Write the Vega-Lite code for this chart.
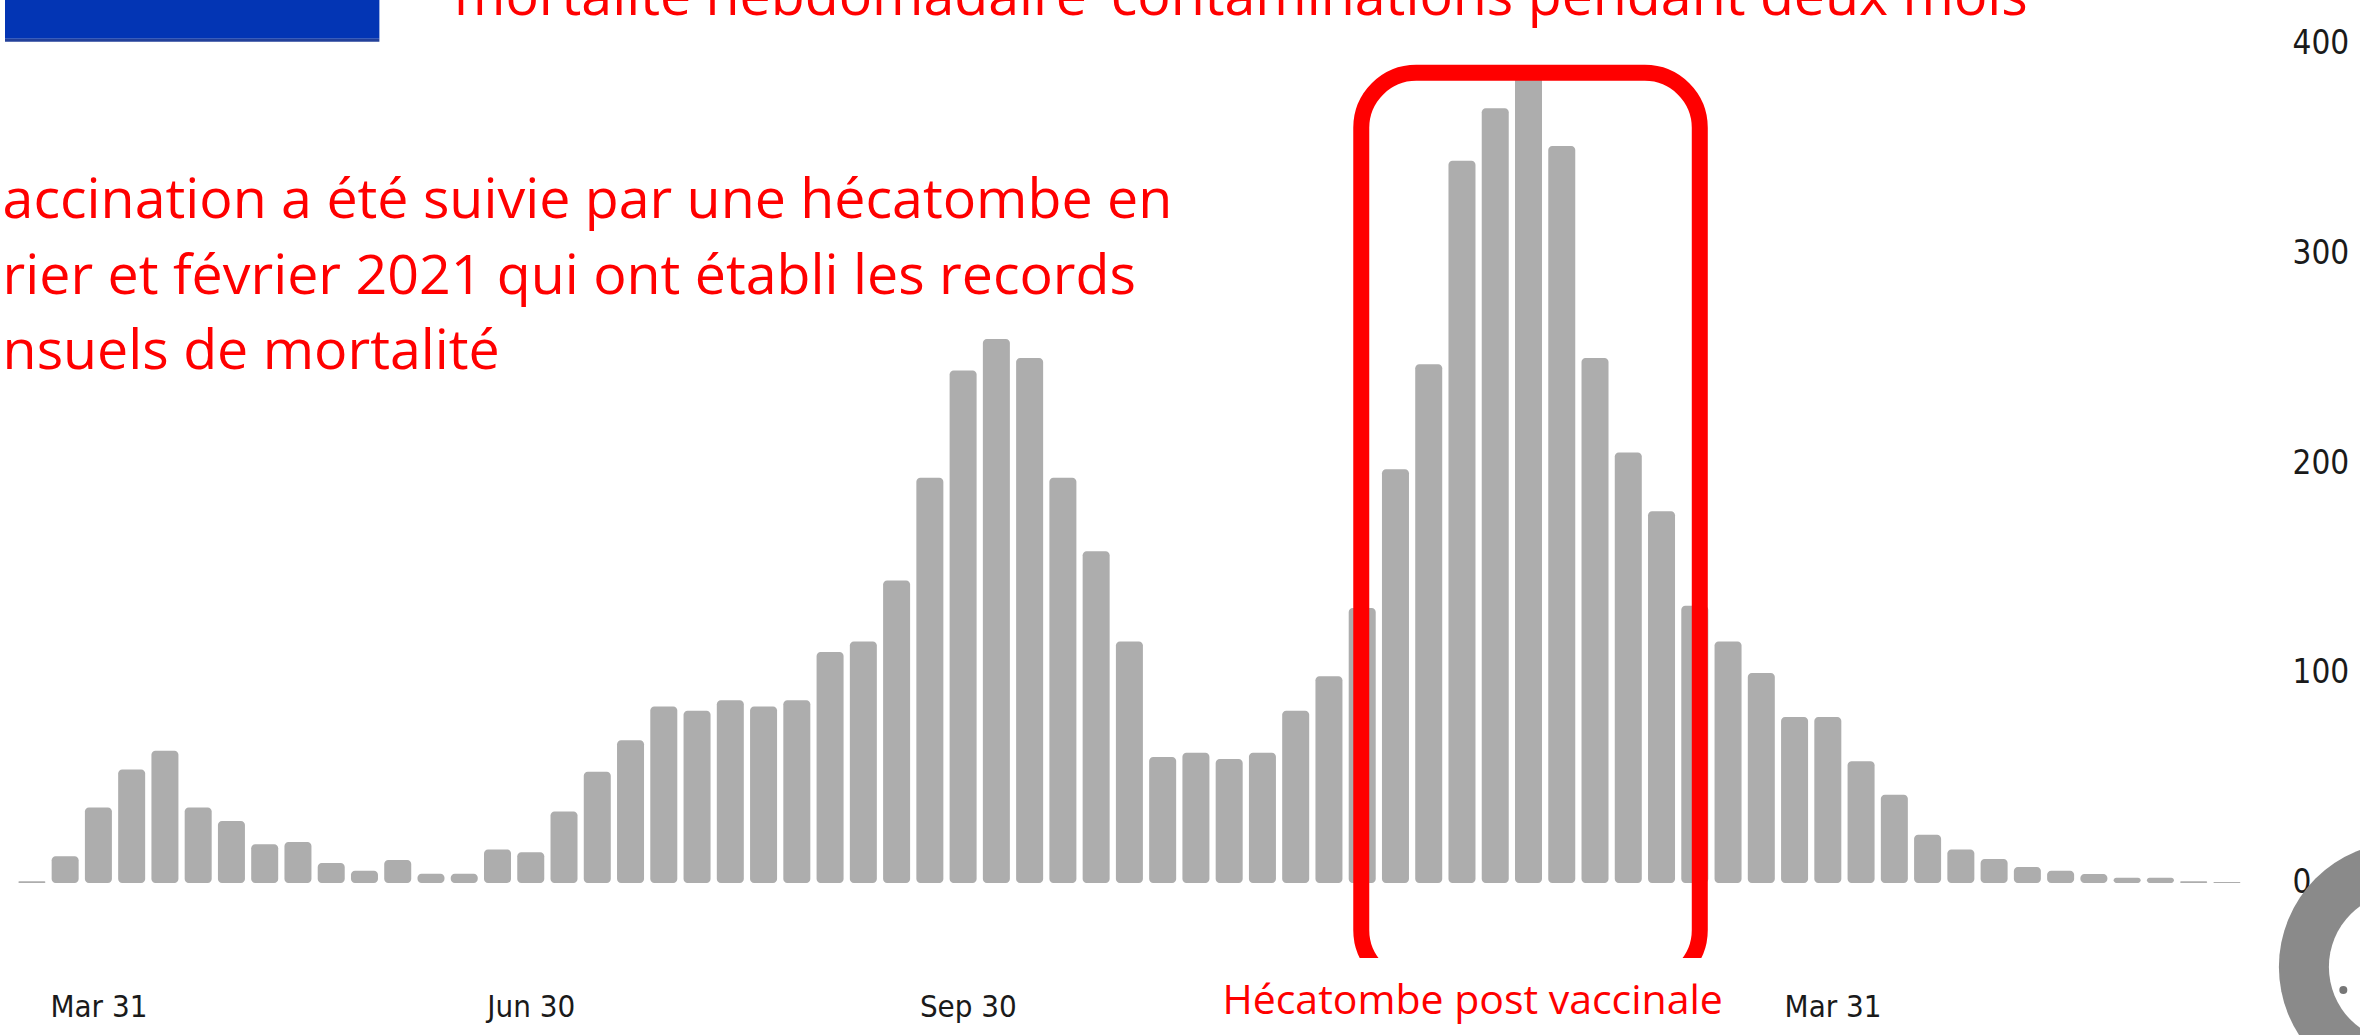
{
  "$schema": "https://vega.github.io/schema/vega-lite/v6.json",
  "width": 2360,
  "height": 1035,
  "autosize": {"type": "none"},
  "padding": 0,
  "background": "white",
  "config": {"view": {"stroke": null}},
  "resolve": {"axis": {"x": "independent", "y": "independent"}},
  "layer": [
    {
      "data": {"values": [{}]},
      "mark": {"type": "rect", "color": "#0335b4"},
      "encoding": {
        "x": {"datum": {"year": 2020, "month": 3, "date": 11, "hours": 8, "minutes": 10, "utc": true}, "type": "temporal", "axis": null,
              "scale": {"type": "utc", "domain": [{"year": 2020, "month": 3, "date": 11, "hours": 8, "minutes": 10, "utc": true}, {"year": 2021, "month": 7, "date": 18, "hours": 23, "utc": true}]}},
        "x2": {"datum": {"year": 2020, "month": 5, "date": 29, "hours": 3, "minutes": 20, "utc": true}},
        "y": {"datum": 430, "type": "quantitative", "axis": null, "scale": {"domain": [-72.4, 420.5], "nice": false, "zero": false}},
        "y2": {"datum": 402.0}
      }
    },
    {
      "data": {"values": [{}]},
      "mark": {"type": "rect", "color": "#23409a"},
      "encoding": {
        "x": {"datum": {"year": 2020, "month": 3, "date": 11, "hours": 8, "minutes": 10, "utc": true}, "type": "temporal", "axis": null,
              "scale": {"type": "utc", "domain": [{"year": 2020, "month": 3, "date": 11, "hours": 8, "minutes": 10, "utc": true}, {"year": 2021, "month": 7, "date": 18, "hours": 23, "utc": true}]}},
        "x2": {"datum": {"year": 2020, "month": 5, "date": 29, "hours": 3, "minutes": 20, "utc": true}},
        "y": {"datum": 402.0, "type": "quantitative", "axis": null, "scale": {"domain": [-72.4, 420.5], "nice": false, "zero": false}},
        "y2": {"datum": 400.6}
      }
    },
    {
      "data": {"values": [
        {"date": "2020-03-17", "deaths": 0.8},
        {"date": "2020-03-24", "deaths": 12.7},
        {"date": "2020-03-31", "deaths": 36},
        {"date": "2020-04-07", "deaths": 54},
        {"date": "2020-04-14", "deaths": 63},
        {"date": "2020-04-21", "deaths": 36},
        {"date": "2020-04-28", "deaths": 29.5},
        {"date": "2020-05-05", "deaths": 18.5},
        {"date": "2020-05-12", "deaths": 19.5},
        {"date": "2020-05-19", "deaths": 9.5},
        {"date": "2020-05-26", "deaths": 5.8},
        {"date": "2020-06-02", "deaths": 11},
        {"date": "2020-06-09", "deaths": 4.4},
        {"date": "2020-06-16", "deaths": 4.4},
        {"date": "2020-06-23", "deaths": 16},
        {"date": "2020-06-30", "deaths": 14.6},
        {"date": "2020-07-07", "deaths": 34},
        {"date": "2020-07-14", "deaths": 53},
        {"date": "2020-07-21", "deaths": 68},
        {"date": "2020-07-28", "deaths": 84},
        {"date": "2020-08-04", "deaths": 82},
        {"date": "2020-08-11", "deaths": 87},
        {"date": "2020-08-18", "deaths": 84},
        {"date": "2020-08-25", "deaths": 87},
        {"date": "2020-09-01", "deaths": 110},
        {"date": "2020-09-08", "deaths": 115},
        {"date": "2020-09-15", "deaths": 144},
        {"date": "2020-09-22", "deaths": 193},
        {"date": "2020-09-29", "deaths": 244},
        {"date": "2020-10-06", "deaths": 259},
        {"date": "2020-10-13", "deaths": 250},
        {"date": "2020-10-20", "deaths": 193},
        {"date": "2020-10-27", "deaths": 158},
        {"date": "2020-11-03", "deaths": 115},
        {"date": "2020-11-10", "deaths": 60},
        {"date": "2020-11-17", "deaths": 62},
        {"date": "2020-11-24", "deaths": 59},
        {"date": "2020-12-01", "deaths": 62},
        {"date": "2020-12-08", "deaths": 82},
        {"date": "2020-12-15", "deaths": 98.5},
        {"date": "2020-12-22", "deaths": 131},
        {"date": "2020-12-29", "deaths": 197},
        {"date": "2021-01-05", "deaths": 247},
        {"date": "2021-01-12", "deaths": 344},
        {"date": "2021-01-19", "deaths": 369},
        {"date": "2021-01-26", "deaths": 388},
        {"date": "2021-02-02", "deaths": 351},
        {"date": "2021-02-09", "deaths": 250},
        {"date": "2021-02-16", "deaths": 205},
        {"date": "2021-02-23", "deaths": 177},
        {"date": "2021-03-02", "deaths": 132},
        {"date": "2021-03-09", "deaths": 115},
        {"date": "2021-03-16", "deaths": 100},
        {"date": "2021-03-23", "deaths": 79},
        {"date": "2021-03-30", "deaths": 79},
        {"date": "2021-04-06", "deaths": 58},
        {"date": "2021-04-13", "deaths": 42},
        {"date": "2021-04-20", "deaths": 23},
        {"date": "2021-04-27", "deaths": 16},
        {"date": "2021-05-04", "deaths": 11.4},
        {"date": "2021-05-11", "deaths": 7.6},
        {"date": "2021-05-18", "deaths": 5.8},
        {"date": "2021-05-25", "deaths": 4.3},
        {"date": "2021-06-01", "deaths": 2.5},
        {"date": "2021-06-08", "deaths": 2.5},
        {"date": "2021-06-15", "deaths": 0.8},
        {"date": "2021-06-22", "deaths": 0.5}
      ]},
      "mark": {"type": "bar", "size": 27, "cornerRadius": 4, "color": "#adadad"},
      "encoding": {
        "x": {"field": "date", "type": "temporal",
              "scale": {"type": "utc", "domain": [{"year": 2020, "month": 3, "date": 11, "hours": 8, "minutes": 10, "utc": true}, {"year": 2021, "month": 7, "date": 18, "hours": 23, "utc": true}]},
              "axis": {"orient": "bottom", "offset": -28, "title": null,
                       "values": [{"year": 2020, "month": 3, "date": 31, "utc": true}, {"year": 2020, "month": 6, "date": 30, "utc": true}, {"year": 2020, "month": 9, "date": 30, "utc": true}, {"year": 2021, "month": 3, "date": 31, "utc": true}],
                       "format": "%b %d", "labelFont": "DejaVu Sans Condensed", "labelFontSize": 31, "labelColor": "#1a1a1a",
                       "labelPadding": 0, "ticks": false, "domain": false, "grid": false, "labelBaseline": "middle", "labelAlign": "center",
                       "labelOverlap": false, "labelFlush": false, "labelBound": false}},
        "y": {"field": "deaths", "type": "quantitative",
              "scale": {"domain": [-72.4, 420.5], "nice": false, "zero": false},
              "axis": {"orient": "right", "offset": -68, "title": null, "values": [0, 100, 200, 300, 400],
                       "labelFont": "DejaVu Sans Condensed", "labelFontSize": 33, "labelColor": "#1a1a1a",
                       "labelPadding": 0, "ticks": false, "domain": false, "grid": false, "labelAlign": "left", "labelBaseline": "middle",
                       "labelOverlap": false, "labelFlush": false, "labelBound": false}},
        "y2": {"datum": 0}
      }
    },
    {
      "data": {"values": [{}]},
      "mark": {"type": "rect", "fill": "transparent", "stroke": "#ff0000", "strokeWidth": 16, "cornerRadius": 55},
      "encoding": {
        "x": {"datum": {"year": 2020, "month": 12, "date": 21, "hours": 19, "minutes": 12, "utc": true}, "type": "temporal", "axis": null,
              "scale": {"type": "utc", "domain": [{"year": 2020, "month": 3, "date": 11, "hours": 8, "minutes": 10, "utc": true}, {"year": 2021, "month": 7, "date": 18, "hours": 23, "utc": true}]}},
        "x2": {"datum": {"year": 2021, "month": 3, "date": 3, "hours": 1, "minutes": 12, "utc": true}},
        "y": {"datum": 385.8, "type": "quantitative", "axis": null, "scale": {"domain": [-72.4, 420.5], "nice": false, "zero": false}},
        "y2": {"datum": -48.6}
      }
    },
    {
      "data": {"values": [{}]},
      "mark": {"type": "rect", "color": "white"},
      "encoding": {
        "x": {"datum": {"year": 2020, "month": 12, "date": 17, "hours": 4, "minutes": 48, "utc": true}, "type": "temporal", "axis": null,
              "scale": {"type": "utc", "domain": [{"year": 2020, "month": 3, "date": 11, "hours": 8, "minutes": 10, "utc": true}, {"year": 2021, "month": 7, "date": 18, "hours": 23, "utc": true}]}},
        "x2": {"datum": {"year": 2021, "month": 3, "date": 7, "hours": 21, "minutes": 36, "utc": true}},
        "y": {"datum": -35.7, "type": "quantitative", "axis": null, "scale": {"domain": [-72.4, 420.5], "nice": false, "zero": false}},
        "y2": {"datum": -58}
      }
    },
    {
      "data": {"values": [
        {"line": "mortalité hebdomadaire ’contaminations pendant deux mois", "px": "2020-06-13T20:38:00Z", "py": 413.4}
      ]},
      "mark": {"type": "text", "font": "Open Sans", "fontSize": 55.5, "color": "#ff0000", "align": "left", "baseline": "alphabetic"},
      "encoding": {
        "x": {"field": "px", "type": "temporal", "axis": null,
              "scale": {"type": "utc", "domain": [{"year": 2020, "month": 3, "date": 11, "hours": 8, "minutes": 10, "utc": true}, {"year": 2021, "month": 7, "date": 18, "hours": 23, "utc": true}]}},
        "y": {"field": "py", "type": "quantitative", "axis": null, "scale": {"domain": [-72.4, 420.5], "nice": false, "zero": false}},
        "text": {"field": "line"}
      }
    },
    {
      "data": {"values": [
        {"line": "accination a été suivie par une hécatombe en", "py": 316.7},
        {"line": "rier et février 2021 qui ont établi les records", "py": 280.5},
        {"line": "nsuels de mortalité", "py": 244.8}
      ]},
      "mark": {"type": "text", "font": "Open Sans", "fontSize": 55.5, "color": "#ff0000", "align": "left", "baseline": "alphabetic"},
      "encoding": {
        "x": {"datum": {"year": 2020, "month": 3, "date": 10, "hours": 20, "utc": true}, "type": "temporal", "axis": null,
              "scale": {"type": "utc", "domain": [{"year": 2020, "month": 3, "date": 11, "hours": 8, "minutes": 10, "utc": true}, {"year": 2021, "month": 7, "date": 18, "hours": 23, "utc": true}]}},
        "y": {"field": "py", "type": "quantitative", "axis": null, "scale": {"domain": [-72.4, 420.5], "nice": false, "zero": false}},
        "text": {"field": "line"}
      }
    },
    {
      "data": {"values": [{}]},
      "mark": {"type": "text", "font": "Open Sans", "fontSize": 41, "color": "#ff0000", "align": "center", "baseline": "alphabetic"},
      "encoding": {
        "x": {"datum": {"year": 2021, "month": 1, "date": 14, "hours": 6, "utc": true}, "type": "temporal", "axis": null,
              "scale": {"type": "utc", "domain": [{"year": 2020, "month": 3, "date": 11, "hours": 8, "minutes": 10, "utc": true}, {"year": 2021, "month": 7, "date": 18, "hours": 23, "utc": true}]}},
        "y": {"datum": -62.4, "type": "quantitative", "axis": null, "scale": {"domain": [-72.4, 420.5], "nice": false, "zero": false}},
        "text": {"value": "Hécatombe post vaccinale"}
      }
    },
    {
      "data": {"values": [{}]},
      "mark": {"type": "point", "shape": "circle", "filled": true, "color": "#8a8a8a", "size": 62500, "opacity": 1},
      "encoding": {
        "x": {"datum": {"year": 2021, "month": 7, "date": 29, "hours": 6, "utc": true}, "type": "temporal", "axis": null,
              "scale": {"type": "utc", "domain": [{"year": 2020, "month": 3, "date": 11, "hours": 8, "minutes": 10, "utc": true}, {"year": 2021, "month": 7, "date": 18, "hours": 23, "utc": true}]}},
        "y": {"datum": -40, "type": "quantitative", "axis": null, "scale": {"domain": [-72.4, 420.5], "nice": false, "zero": false}}
      }
    },
    {
      "data": {"values": [{}]},
      "mark": {"type": "point", "shape": "circle", "filled": true, "color": "white", "size": 22500, "opacity": 1},
      "encoding": {
        "x": {"datum": {"year": 2021, "month": 7, "date": 29, "hours": 6, "utc": true}, "type": "temporal", "axis": null,
              "scale": {"type": "utc", "domain": [{"year": 2020, "month": 3, "date": 11, "hours": 8, "minutes": 10, "utc": true}, {"year": 2021, "month": 7, "date": 18, "hours": 23, "utc": true}]}},
        "y": {"datum": -40, "type": "quantitative", "axis": null, "scale": {"domain": [-72.4, 420.5], "nice": false, "zero": false}}
      }
    },
    {
      "data": {"values": [{}]},
      "mark": {"type": "point", "shape": "circle", "filled": true, "color": "#777777", "size": 64, "opacity": 1},
      "encoding": {
        "x": {"datum": {"year": 2021, "month": 7, "date": 16, "hours": 12, "utc": true}, "type": "temporal", "axis": null,
              "scale": {"type": "utc", "domain": [{"year": 2020, "month": 3, "date": 11, "hours": 8, "minutes": 10, "utc": true}, {"year": 2021, "month": 7, "date": 18, "hours": 23, "utc": true}]}},
        "y": {"datum": -51, "type": "quantitative", "axis": null, "scale": {"domain": [-72.4, 420.5], "nice": false, "zero": false}}
      }
    }
  ]
}
